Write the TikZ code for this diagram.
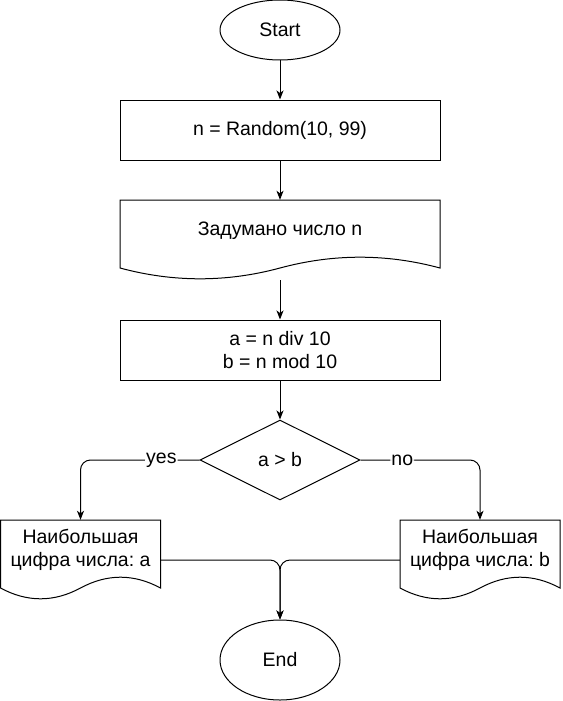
\documentclass[tikz,border=0pt]{standalone}
\usepackage{fontspec}
\setmainfont{Liberation Sans}
\usetikzlibrary{shapes.geometric,arrows.meta,calc}
\frenchspacing
% document outline: #1 = left x, #2 = top y, #3 = width (height 80)
\newcommand\docoutline[3]{%
  \draw[shp] (#1,#2) -- ({#1+#3},#2) -- ({#1+#3},{#2+68})
    .. controls ({#1+5*#3/6},{#2+53.6}) and ({#1+2*#3/3},{#2+53.6}) .. ({#1+#3/2},{#2+68})
    .. controls ({#1+#3/3},{#2+82.4}) and ({#1+#3/6},{#2+82.4}) .. (#1,{#2+68}) -- cycle;}
\begin{document}
\begin{tikzpicture}[x=1pt,y=-1pt,
  every node/.style={font=\fontsize{19.5}{23.4}\selectfont\frenchspacing, text=black},
  shp/.style={draw=black, line width=1pt},
  term/.style={shp, ellipse, minimum width=120pt, inner sep=0pt},
  proc/.style={shp, rectangle, minimum width=320pt, minimum height=60pt, inner sep=0pt},
  decis/.style={shp, diamond, minimum width=160pt, minimum height=80pt, inner sep=0pt, aspect=2},
  docbox/.style={rectangle, draw=none, minimum width=#1, minimum height=80pt, inner sep=0pt},
  arr/.style={shp, -{Stealth[length=9pt, width=7pt, inset=2.5pt]}},
  lbl/.style={fill=white, inner sep=1pt}]
\useasboundingbox (0,0) rectangle (562,701);

\node[term, minimum height=60pt] (start) at (280,30) {Start};
\node[proc] (p1) at (280,130) {n = Random(10, 99)};
\node[docbox=320pt] (d1) at (280,240) {};
\docoutline{120}{200}{320}
\node (d1t) at (280,231) {Задумано число n};
\node[proc, align=center] (p2) at (280,350) {a = n div 10\\b = n mod 10};
\node[decis] (dec) at (280,460) {a > b};
\node[docbox=160pt] (d2) at (80.5,560) {};
\docoutline{0.5}{520}{160}
\node[align=center] (d2t) at (80.5,550) {Наибольшая\\цифра числа: a};
\node[docbox=160pt] (d3) at (480,560) {};
\docoutline{400}{520}{160}
\node[align=center] (d3t) at (480,550) {Наибольшая\\цифра числа: b};
\node[term, minimum height=80pt] (end) at (280,660) {End};

\draw[arr] (start) -- (p1);
\draw[arr] (p1) -- (d1);
\draw[arr] (d1) -- (p2);
\draw[arr] (p2) -- (dec);
\draw[arr, rounded corners=10pt] (dec.west) -| node[lbl, pos=0.16] {yes} (d2.north);
\draw[arr, rounded corners=10pt] (dec.east) -| node[lbl, pos=0.175] {no} (d3.north);
\draw[arr, rounded corners=10pt] (d2.east) -| (end.north);
\draw[arr, rounded corners=10pt] (d3.west) -| (end.north);
\end{tikzpicture}
\end{document}
